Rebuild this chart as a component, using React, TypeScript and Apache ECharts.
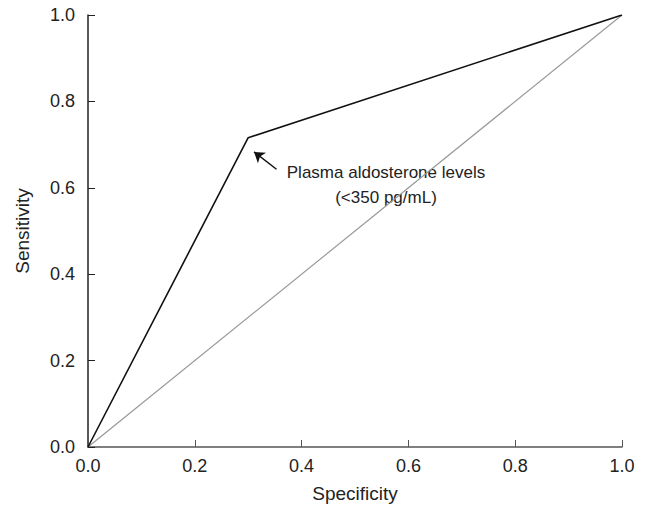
import React, { useEffect, useRef } from "react";
import * as echarts from "echarts";

const xTicks = [0, 0.2, 0.4, 0.6, 0.8, 1.0];
const rocPoints: [number, number][] = [
  [0, 0],
  [0.3, 0.716],
  [1, 1],
];
const diagonal: [number, number][] = [
  [0, 0],
  [1, 1],
];
const arrowFrom: [number, number] = [0.353, 0.643];
const arrowTo: [number, number] = [0.311, 0.683];
const annotation = ["Plasma aldosterone levels", "(<350 pg/mL)"];

const FONT = "'Liberation Sans', Arial, sans-serif";

export default function App() {
  const ref = useRef<HTMLDivElement>(null);
  useEffect(() => {
    const chart = echarts.init(ref.current!, null, { renderer: "svg" });
    chart.setOption({
      animation: false,
      backgroundColor: "#fff",
      textStyle: { fontFamily: FONT },
      grid: { left: 88, right: 24, top: 15, bottom: 60 },
      xAxis: {
        type: "value",
        min: 0,
        max: 1,
        interval: 0.2,
        name: "Specificity",
        nameLocation: "middle",
        nameGap: 37,
        nameTextStyle: { fontSize: 19, color: "#222", fontFamily: FONT },
        axisLine: { lineStyle: { color: "#555", width: 1.5 } },
        axisTick: { inside: true, length: 7, lineStyle: { color: "#555" } },
        axisLabel: {
          fontSize: 18,
          color: "#222",
          margin: 10,
          fontFamily: FONT,
          formatter: (v: number) => v.toFixed(1),
        },
        splitLine: { show: false },
      },
      yAxis: {
        type: "value",
        min: 0,
        max: 1,
        interval: 0.2,
        name: "Sensitivity",
        nameLocation: "middle",
        nameGap: 56,
        nameTextStyle: { fontSize: 19, color: "#222", fontFamily: FONT },
        axisLine: { show: true, lineStyle: { color: "#222", width: 1.5 } },
        axisTick: { show: true, inside: true, length: 7, lineStyle: { color: "#222" } },
        axisLabel: {
          fontSize: 18,
          color: "#222",
          margin: 13,
          fontFamily: FONT,
          formatter: (v: number) => v.toFixed(1),
        },
        splitLine: { show: false },
      },
      series: [
        {
          type: "line",
          data: diagonal,
          symbol: "none",
          lineStyle: { color: "#999", width: 1.2 },
          silent: true,
        },
        {
          type: "line",
          data: rocPoints,
          symbol: "none",
          lineStyle: { color: "#111", width: 1.6 },
          markLine: {
            silent: true,
            symbol: ["none", "arrow"],
            symbolSize: 10,
            label: { show: false },
            lineStyle: { color: "#111", width: 1.5, type: "solid" },
            data: [[{ coord: arrowFrom }, { coord: arrowTo }]],
          },
        },
      ],
      graphic: [
        {
          type: "text",
          x: 386,
          y: 172,
          style: {
            text: annotation[0],
            fontSize: 17,
            fontFamily: FONT,
            fill: "#222",
            textAlign: "center",
            textVerticalAlign: "middle",
          },
        },
        {
          type: "text",
          x: 386,
          y: 197,
          style: {
            text: annotation[1],
            fontSize: 17,
            fontFamily: FONT,
            fill: "#222",
            textAlign: "center",
            textVerticalAlign: "middle",
          },
        },
      ],
    });
    return () => chart.dispose();
  }, []);
  return (
    <div
      ref={ref}
      style={{ position: "fixed", left: 0, top: 0, width: 646, height: 508 }}
    />
  );
}
